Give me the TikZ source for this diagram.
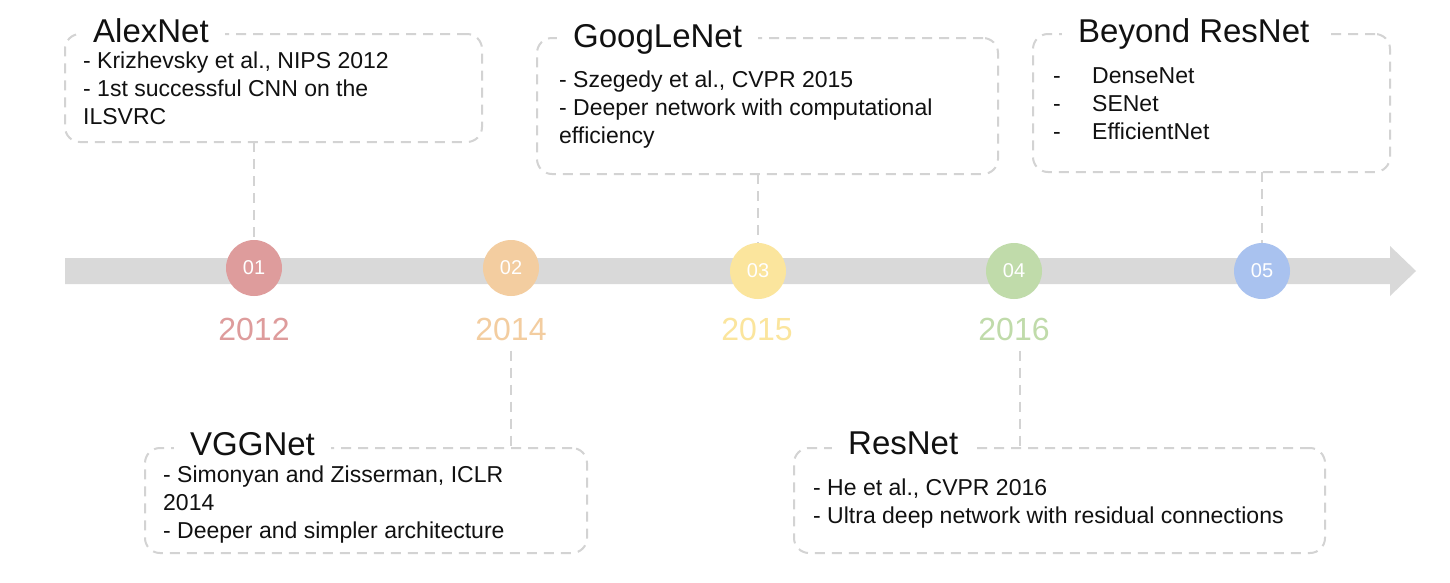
\documentclass[tikz,border=0pt]{standalone}
\usepackage{fontspec}
\setmainfont{Liberation Sans}
\usetikzlibrary{backgrounds}
\definecolor{cA}{HTML}{DE9C9C}
\definecolor{cB}{HTML}{F3CDA0}
\definecolor{cC}{HTML}{FBE59D}
\definecolor{cD}{HTML}{C0DBAA}
\definecolor{cE}{HTML}{A9C2EF}
\definecolor{barc}{HTML}{D9D9D9}
\definecolor{dashc}{HTML}{D3D3D3}
\definecolor{ink}{HTML}{111111}
\begin{document}
\begin{tikzpicture}[x=1pt,y=-1pt,
  boxnode/.style={draw=dashc, line width=2pt, dash pattern=on 10pt off 7pt, rounded corners=15pt, anchor=north west, inner sep=0pt, outer sep=0pt},
  conn/.style={draw=dashc, line width=2pt, dash pattern=on 10pt off 7pt},
  titlenode/.style={fill=white, text=ink, anchor=base west, font=\fontsize{33}{38}\selectfont, inner xsep=16pt, inner ysep=4pt, xshift=-16pt},
  bodytext/.style={text=ink, anchor=north west, align=left, inner sep=0pt, font=\fontsize{23}{28}\selectfont},
  dot/.style={circle, minimum size=56pt, inner sep=0pt, text=white, font=\fontsize{20}{24}\selectfont},
  yearlab/.style={font=\fontsize{32}{38}\selectfont, inner sep=0pt}
]
\useasboundingbox (0,0) rectangle (1450,582);

% boxes
\node[boxnode, minimum width=417pt, minimum height=108pt] (b1) at (65,34) {};
\node[boxnode, minimum width=461pt, minimum height=136pt] (b3) at (537,38) {};
\node[boxnode, minimum width=357pt, minimum height=138pt] (b5) at (1033,34) {};
\node[boxnode, minimum width=442pt, minimum height=105pt] (b2) at (145,448) {};
\node[boxnode, minimum width=531pt, minimum height=105pt] (b4) at (794,448) {};

% circles
\node[dot, fill=cA] (c1) at (254,268) {01};
\node[dot, fill=cB] (c2) at (511,268) {02};
\node[dot, fill=cC] (c3) at (758,271) {03};
\node[dot, fill=cD] (c4) at (1014,271) {04};
\node[dot, fill=cE] (c5) at (1262,271) {05};

% years
\node[yearlab, text=cA] (y1) at (254,329) {2012};
\node[yearlab, text=cB] (y2) at (511,329) {2014};
\node[yearlab, text=cC] (y3) at (757,329) {2015};
\node[yearlab, text=cD] (y4) at (1014,329) {2016};

\begin{scope}[on background layer]
  \fill[white] (0,0) rectangle (1450,582);
  % timeline arrow
  \fill[barc] (65,258) -- (1390,258) -- (1390,246) -- (1416,271) -- (1390,296) -- (1390,284) -- (65,284) -- cycle;
  % connectors
  \draw[conn] (b1.south -| c1.north) -- (c1.north);
  \draw[conn] (b3.south -| c3.north) -- (c3.north);
  \draw[conn] (b5.south -| c5.north) -- (c5.north);
  \draw[conn] ([yshift=-10pt]y2.south) -- (y2.south |- b2.north);
  \draw[conn] ([xshift=6pt,yshift=-10pt]y4.south) -- ([xshift=6pt]y4.south |- b4.north);
\end{scope}

% titles
\node[titlenode] (t1) at (93,42) {AlexNet};
\node[titlenode] (t3) at (573,47) {GoogLeNet};
\node[titlenode] (t5) at (1078,42) {Beyond ResNet};
\node[titlenode] (t2) at (190,455) {VGGNet};
\node[titlenode] (t4) at (848,454) {ResNet};

% body texts
\node[bodytext] (d1) at (83,48.4) {\strut- Krizhevsky et al., NIPS 2012\\- 1st successful CNN on the\\ILSVRC};
\node[bodytext] (d3) at (559,67.4) {\strut- Szegedy et al., CVPR 2015\\- Deeper network with computational\\efficiency};
\node[bodytext] (d5) at (1053,63.4) {\strut\makebox[39pt][l]{-}DenseNet\\\makebox[39pt][l]{-}SENet\\\makebox[39pt][l]{-}EfficientNet};
\node[bodytext] (d2) at (163,462.4) {\strut- Simonyan and Zisserman, ICLR\\2014\\- Deeper and simpler architecture};
\node[bodytext] (d4) at (813,475.4) {\strut- He et al., CVPR 2016\\- Ultra deep network with residual connections};
\end{tikzpicture}
\end{document}
